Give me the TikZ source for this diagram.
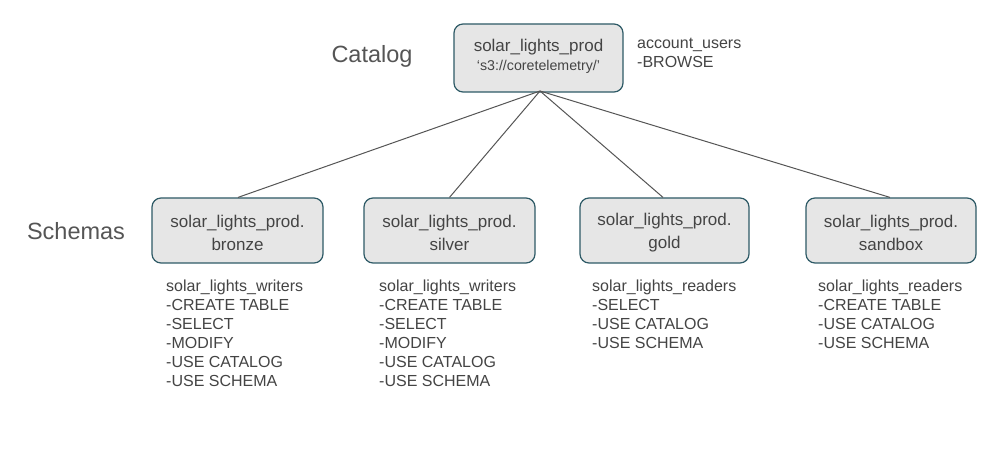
\documentclass[tikz,border=0pt]{standalone}
\usepackage{fontspec}
\setmainfont{Liberation Sans}
\begin{document}
\begin{tikzpicture}[x=1pt,y=-1pt,
  box/.style={draw=boxedge,fill=boxfill,line width=1.2pt,rounded corners=9pt,inner sep=0pt},
  boxtext/.style={text=txt,inner sep=0pt,align=center,font=\fontsize{17}{23}\selectfont},
  perm/.style={anchor=north west,align=left,text=txt,inner sep=0pt,font=\fontsize{16}{19}\selectfont},
  big/.style={text=lbl,inner sep=0pt,font=\fontsize{23.5}{27}\selectfont},
  link/.style={draw=linec,line width=1pt}]
\definecolor{boxedge}{HTML}{2E5A66}
\definecolor{boxfill}{HTML}{E6E6E6}
\definecolor{txt}{HTML}{444444}
\definecolor{lbl}{HTML}{555555}
\definecolor{linec}{HTML}{555555}
\useasboundingbox[fill=white] (0,0) rectangle (999,470);
% catalog box
\node[box,minimum width=169pt,minimum height=68pt] (cat) at (538.5,58) {};
\node[text=txt,inner sep=0pt,font=\fontsize{17}{19}\selectfont] (catname) at (538.5,47) {solar\_lights\_prod};
\node[text=txt,inner sep=0pt,font=\fontsize{14.2}{17}\selectfont] (catloc) at (538.5,67) {‘s3://coretelemetry/’};
\coordinate (root) at (540,91);
\node[big] (catlbl) at (372,56) {Catalog};
\node[big] (schlbl) at (76,231) {Schemas};
\node[perm] (catperm) at (637,38) {account\_users\\-BROWSE};
% schema boxes
\node[box,minimum width=171pt,minimum height=65pt] (bronze) at (237.5,230.5) {};
\node[box,minimum width=171pt,minimum height=65pt] (silver) at (449.5,230.5) {};
\node[box,minimum width=169pt,minimum height=65pt] (gold) at (664.5,230.5) {};
\node[box,minimum width=170pt,minimum height=65pt] (sandbox) at (891,230.5) {};
\node[boxtext] (bronzeT) at (237.5,233) {solar\_lights\_prod.\\bronze};
\node[boxtext] (silverT) at (449.5,233) {solar\_lights\_prod.\\silver};
\node[boxtext] (goldT) at (664.5,233) {solar\_lights\_prod.\\gold};
\node[boxtext] (sandboxT) at (891,233) {solar\_lights\_prod.\\sandbox};
% connectors
\draw[link] (root) -- (bronze.north -| 238,0);
\draw[link] (root) -- (silver.north);
\draw[link] (root) -- (gold.north -| 663,0);
\draw[link] (root) -- (sandbox.north -| 890,0);
% permissions
\node[perm] (pb) at (166,280) {solar\_lights\_writers\\-CREATE TABLE\\-SELECT\\-MODIFY\\-USE CATALOG\\-USE SCHEMA};
\node[perm] (ps) at (379,280) {solar\_lights\_writers\\-CREATE TABLE\\-SELECT\\-MODIFY\\-USE CATALOG\\-USE SCHEMA};
\node[perm] (pg) at (592,280) {solar\_lights\_readers\\-SELECT\\-USE CATALOG\\-USE SCHEMA};
\node[perm] (pk) at (818,280) {solar\_lights\_readers\\-CREATE TABLE\\-USE CATALOG\\-USE SCHEMA};
\end{tikzpicture}
\end{document}
